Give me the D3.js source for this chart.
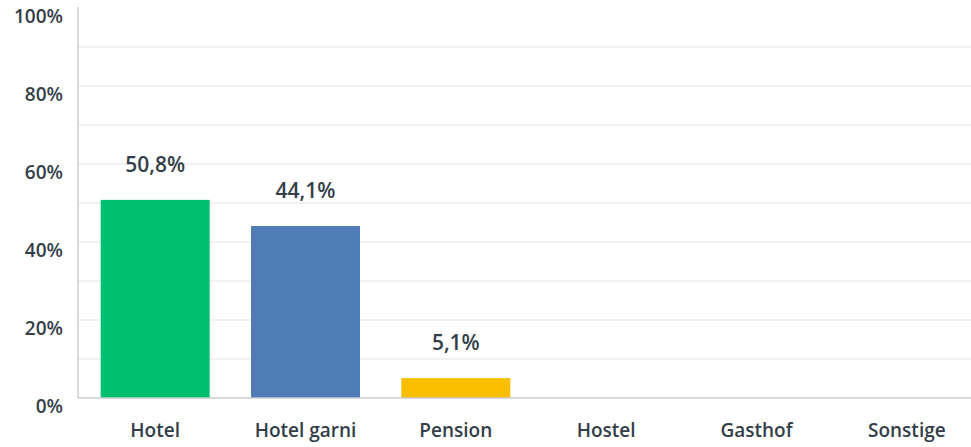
<!DOCTYPE html>
<html>
<head>
<meta charset="utf-8">
<script src="https://cdn.jsdelivr.net/npm/d3@7"></script>
<style>
  body { margin: 0; background: #fff; }
  text { font-family: "Open Sans", Roboto, sans-serif; fill: #333e48; font-weight: 600; }
</style>
</head>
<body>
<svg id="chart" width="971" height="447"></svg>
<script>
// data
const categories = ['Hotel', 'Hotel garni', 'Pension', 'Hostel', 'Gasthof', 'Sonstige']
const values = [50.8, 44.1, 5.1, 0, 0, 0]
const colors = ['#00bf6f', '#507cb6', '#f9be00', '#6bc8cd', '#ff8b4f', '#7d5ba6']
const yTicks = [0, 20, 40, 60, 80, 100]
const gridTicks = [10, 20, 30, 40, 50, 60, 70, 80, 90]

const svg = d3.select('#chart')
const plotLeft = 78
const plotTop = 8
const plotBottom = 398

const x = d3.scaleBand()
  .domain(categories)
  .range([80, 982])
  .paddingInner(0.275)
  .paddingOuter(0.1375)

const y = d3.scaleLinear()
  .domain([0, 100])
  .range([plotBottom, plotTop])

const fmt = v => d3.format('.1f')(v).replace('.', ',') + '%'

// grid lines
svg.append('g')
  .selectAll('line')
  .data(gridTicks)
  .enter()
  .append('line')
  .attr('x1', plotLeft)
  .attr('x2', 971)
  .attr('y1', d => y(d))
  .attr('y2', d => y(d))
  .attr('stroke', '#ededed')
  .attr('stroke-width', 1.5)

// bars
svg.append('g')
  .selectAll('rect')
  .data(categories)
  .enter()
  .append('rect')
  .attr('x', d => x(d))
  .attr('width', x.bandwidth())
  .attr('y', (d, i) => y(values[i]))
  .attr('height', (d, i) => y(0) - y(values[i]))
  .attr('fill', (d, i) => colors[i])

// value labels (only for non-empty bars)
svg.append('g')
  .selectAll('text')
  .data(categories.filter((d, i) => values[i] > 0))
  .enter()
  .append('text')
  .attr('x', d => x(d) + x.bandwidth() / 2)
  .attr('y', d => y(values[categories.indexOf(d)]) - 28)
  .attr('text-anchor', 'middle')
  .style('font-size', '21px')
  .text(d => fmt(values[categories.indexOf(d)]))

// axes lines
svg.append('line')
  .attr('x1', plotLeft).attr('x2', plotLeft)
  .attr('y1', 7).attr('y2', plotBottom)
  .attr('stroke', '#cccccc')
  .attr('stroke-width', 1.5)

svg.append('line')
  .attr('x1', plotLeft).attr('x2', 971)
  .attr('y1', plotBottom).attr('y2', plotBottom)
  .attr('stroke', '#cccccc')
  .attr('stroke-width', 1.5)

// y tick labels
svg.append('g')
  .selectAll('text')
  .data(yTicks)
  .enter()
  .append('text')
  .attr('x', 63)
  .attr('y', d => y(d) + 15)
  .attr('text-anchor', 'end')
  .style('font-size', '19px')
  .text(d => d + '%')

// category labels
svg.append('g')
  .selectAll('text')
  .data(categories)
  .enter()
  .append('text')
  .attr('x', d => x(d) + x.bandwidth() / 2)
  .attr('y', 437)
  .attr('text-anchor', 'middle')
  .style('font-size', '19px')
  .text(d => d)
</script>
</body>
</html>
